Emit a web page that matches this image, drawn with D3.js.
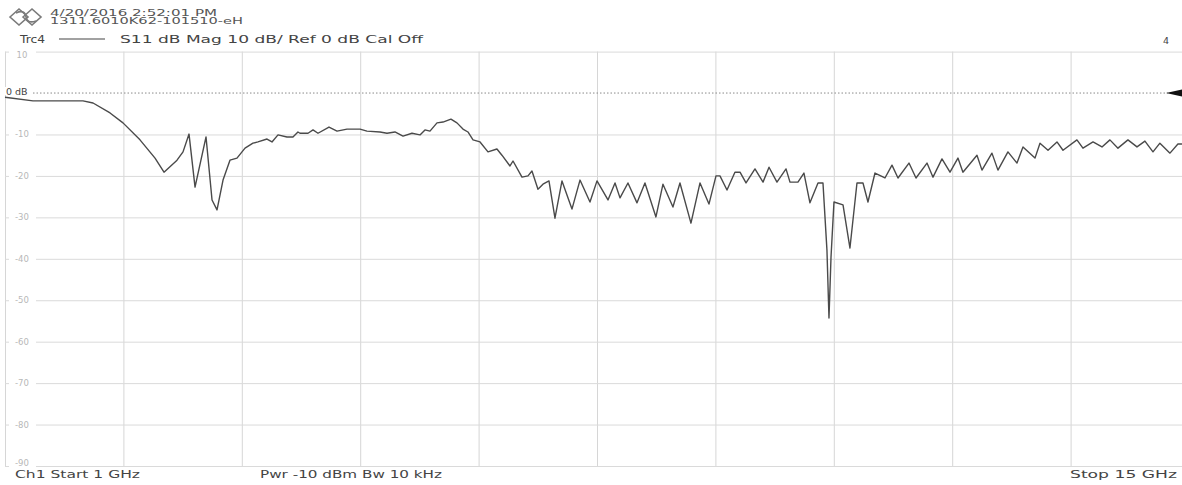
<!DOCTYPE html>
<html>
<head>
<meta charset="utf-8">
<script src="https://cdn.jsdelivr.net/npm/d3@7"></script>
<style>
body { margin: 0; background: #fff; }
text { font-family: "DejaVu Sans", Verdana, sans-serif; }
</style>
</head>
<body>
<svg id="chart"></svg>
<script>
const svgWidth = 1182,
    svgHeight = 485;
const plot = {left: 5, right: 1189, top: 51.6, bottom: 466};

// sweep setup
const startGHz = 1, stopGHz = 15;
const xDivisions = d3.range(0, 11);
const yTicks = [10, 0, -10, -20, -30, -40, -50, -60, -70, -80, -90];

// header / footer texts
const stampLines = ["4/20/2016 2:52:01 PM", "1311.6010K62-101510-eH"];
const traceName = "Trc4";
const traceInfo = "S11 dB Mag 10 dB/ Ref 0 dB Cal Off";
const channelNo = "4";
const footer = ["Ch1 Start 1 GHz", "Pwr -10 dBm Bw 10 kHz", "Stop 15 GHz"];

// S11 trace
const freqGHz = [
    1.000, 1.331, 1.922, 2.041, 2.242, 2.395, 2.596, 2.774, 2.880, 3.034,
    3.105, 3.176, 3.247, 3.377, 3.448, 3.507, 3.578, 3.660, 3.743, 3.838,
    3.932, 3.991, 4.098, 4.157, 4.228, 4.334, 4.405, 4.464, 4.488, 4.583,
    4.642, 4.701, 4.831, 4.926, 5.044, 5.198, 5.280, 5.434, 5.517, 5.611,
    5.706, 5.812, 5.907, 5.966, 6.025, 6.108, 6.179, 6.273, 6.344, 6.415,
    6.474, 6.534, 6.617, 6.711, 6.817, 6.876, 6.971, 7.007, 7.113, 7.184,
    7.231, 7.302, 7.361, 7.432, 7.503, 7.586, 7.704, 7.799, 7.917, 8.000,
    8.130, 8.213, 8.272, 8.366, 8.473, 8.567, 8.697, 8.780, 8.898, 8.981,
    9.111, 9.218, 9.324, 9.407, 9.454, 9.537, 9.631, 9.691, 9.762, 9.868,
    9.963, 10.034, 10.128, 10.235, 10.282, 10.376, 10.447, 10.518, 10.613, 10.672,
    10.719, 10.743, 10.767, 10.802, 10.909, 10.991, 11.074, 11.145, 11.204, 11.287,
    11.405, 11.488, 11.559, 11.689, 11.772, 11.902, 11.973, 12.079, 12.174, 12.268,
    12.327, 12.493, 12.552, 12.670, 12.741, 12.859, 12.966, 13.037, 13.179, 13.238,
    13.333, 13.439, 13.510, 13.675, 13.746, 13.865, 13.971, 14.065, 14.160, 14.278,
    14.385, 14.479, 14.574, 14.656, 14.775, 14.869, 14.917
];
const magDb = [
    -1.0, -1.9, -1.9, -2.4, -4.8, -7.2, -11.3, -15.7, -19.1, -16.2,
    -14.2, -9.9, -22.7, -10.6, -25.8, -28.2, -21.0, -16.2, -15.7, -13.3,
    -12.1, -11.8, -11.1, -11.8, -10.1, -10.6, -10.6, -9.4, -9.7, -9.7,
    -8.9, -9.7, -8.2, -9.2, -8.7, -8.7, -9.2, -9.4, -9.7, -9.4,
    -10.4, -9.7, -10.1, -8.9, -9.2, -7.2, -7.0, -6.3, -7.2, -8.7,
    -9.4, -11.3, -11.8, -14.2, -13.5, -15.0, -17.6, -16.4, -20.3, -20.0,
    -18.8, -23.2, -22.0, -21.2, -30.2, -21.2, -28.0, -21.0, -26.3, -21.2,
    -25.8, -21.7, -25.3, -21.7, -26.5, -21.7, -29.9, -22.0, -27.5, -21.7,
    -31.4, -21.7, -26.8, -20.0, -20.0, -23.4, -19.1, -19.1, -21.7, -18.3,
    -21.5, -17.9, -21.5, -18.3, -21.5, -21.5, -19.3, -26.5, -21.7, -21.7,
    -37.9, -54.3, -39.6, -26.3, -27.0, -37.4, -21.7, -21.7, -26.3, -19.3,
    -20.5, -17.4, -20.5, -16.9, -20.5, -16.9, -20.3, -15.9, -19.1, -15.7,
    -19.1, -15.0, -18.6, -14.5, -18.6, -14.2, -16.9, -13.0, -15.7, -12.1,
    -13.8, -11.8, -13.8, -11.3, -13.3, -11.8, -13.0, -11.3, -13.3, -11.3,
    -13.0, -11.6, -14.2, -12.1, -14.5, -12.3, -12.3
];

const chart = d3.select("#chart")
    .attr("width", svgWidth)
    .attr("height", svgHeight);

var xScale = d3.scaleLinear().domain([startGHz, stopGHz]).range([plot.left, plot.right]);
var yScale = d3.scaleLinear().domain([10, -90]).range([plot.top, plot.bottom]);

var gridFreqs = xDivisions.map(d => startGHz + d * (stopGHz - startGHz) / 10);

// vertical grid
var xAxis = d3.axisBottom(xScale)
    .tickValues(gridFreqs)
    .tickSize(-(plot.bottom - plot.top))
    .tickFormat("");
chart.append("g")
    .attr("transform", "translate(0," + plot.bottom + ")")
    .call(xAxis)
    .call(g => g.select(".domain").remove())
    .call(g => g.selectAll("line").attr("stroke", "#d6d6d6"));

// horizontal grid (0 dB is drawn as the dotted reference line)
var yAxis = d3.axisLeft(yScale)
    .tickValues(yTicks.filter(d => d !== 0))
    .tickSize(-(plot.right - plot.left))
    .tickFormat("");
chart.append("g")
    .attr("transform", "translate(" + plot.left + ",0)")
    .call(yAxis)
    .call(g => g.select(".domain").remove())
    .call(g => g.selectAll("line").attr("stroke", "#dadada"));

// y labels sit on the grid lines
var labels = chart.append("g");
yTicks.filter(d => d !== 0).forEach(function(d) {
    var cy = yScale(d);
    if (d === 10) cy += 3;
    if (d === -90) cy -= 3;
    labels.append("rect")
        .attr("x", 9).attr("y", cy - 4)
        .attr("width", 27).attr("height", 8)
        .attr("fill", "#fff");
    labels.append("text")
        .attr("x", 22).attr("y", cy + 3)
        .attr("text-anchor", "middle")
        .attr("font-size", 8.5)
        .attr("fill", "#b8b8b8")
        .text(d);
});

// reference line at 0 dB
chart.append("line")
    .attr("x1", plot.left).attr("x2", 1168)
    .attr("y1", yScale(0)).attr("y2", yScale(0))
    .attr("stroke", "#8a8a8a")
    .attr("stroke-width", 1)
    .attr("stroke-dasharray", "1.5,2");
chart.append("rect")
    .attr("x", 5).attr("y", yScale(0) - 6)
    .attr("width", 26).attr("height", 8)
    .attr("fill", "#fff");
chart.append("text")
    .attr("x", 6).attr("y", yScale(0) + 2)
    .attr("font-size", 9.5)
    .attr("fill", "#444")
    .text("0 dB");
chart.append("path")
    .attr("d", "M1166," + yScale(0) + " L1184," + (yScale(0) - 4) + " L1184," + (yScale(0) + 4) + " Z")
    .attr("fill", "#111");

// trace
var valueline = d3.line()
    .x((d, i) => xScale(freqGHz[i]))
    .y(d => yScale(d))
    .curve(d3.curveLinear);

chart.append("path")
    .datum(magDb)
    .attr("fill", "none")
    .attr("stroke", "#4a4a4a")
    .attr("stroke-width", 1.4)
    .attr("stroke-linejoin", "round")
    .attr("d", valueline);

// header
var logo = chart.append("g")
    .attr("fill", "none")
    .attr("stroke", "#7a7a7a")
    .attr("stroke-width", 1.6);
logo.append("path").attr("d", "M10,17 L19,9 L28,17 L19,25 Z");
logo.append("path").attr("d", "M23,17 L32,9 L41,17 L32,25 Z");
logo.append("path").attr("d", "M16,13 Q25,9 26,17 Q27,24 36,21");

stampLines.forEach(function(s, i) {
    chart.append("text")
        .attr("x", 50).attr("y", 16 + i * 8)
        .attr("font-size", 8.5)
        .attr("fill", "#555")
        .attr("textLength", i === 0 ? 167 : 193)
        .attr("lengthAdjust", "spacingAndGlyphs")
        .text(s);
});

chart.append("text")
    .attr("x", 20).attr("y", 43)
    .attr("font-size", 11)
    .attr("fill", "#444")
    .attr("textLength", 25)
    .attr("lengthAdjust", "spacingAndGlyphs")
    .text(traceName);
chart.append("line")
    .attr("x1", 59).attr("x2", 105)
    .attr("y1", 39).attr("y2", 39)
    .attr("stroke", "#444").attr("stroke-width", 1.2);
chart.append("text")
    .attr("x", 120).attr("y", 43)
    .attr("font-size", 11)
    .attr("fill", "#444")
    .attr("textLength", 303)
    .attr("lengthAdjust", "spacingAndGlyphs")
    .text(traceInfo);
chart.append("text")
    .attr("x", 1166).attr("y", 44)
    .attr("text-anchor", "middle")
    .attr("font-size", 9.5)
    .attr("fill", "#444")
    .text(channelNo);

// footer
var footerX = [15, 260, 1070], footerW = [125, 182, 107];
footer.forEach(function(s, i) {
    chart.append("text")
        .attr("x", footerX[i]).attr("y", 478)
        .attr("font-size", 11)
        .attr("fill", "#444")
        .attr("textLength", footerW[i])
        .attr("lengthAdjust", "spacingAndGlyphs")
        .text(s);
});
</script>
</body>
</html>
